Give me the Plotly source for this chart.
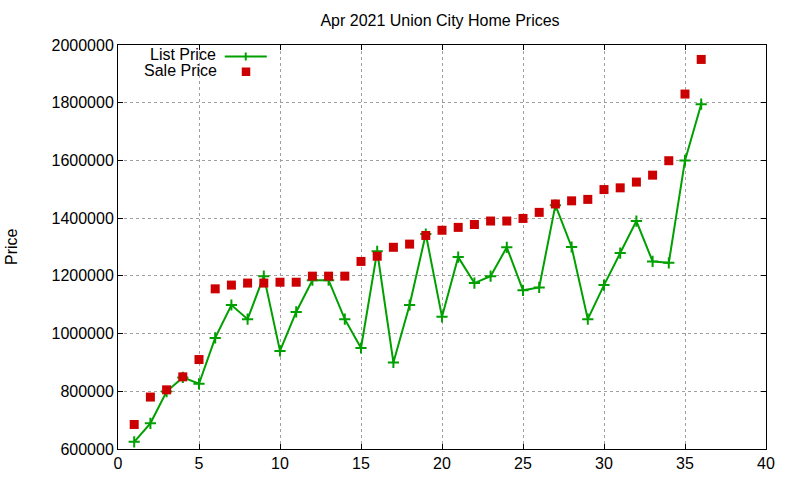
import plotly.graph_objects as go

homes = list(range(1, 37))
list_price = [625000, 689000, 799000, 848000, 826000, 985000, 1099000, 1050000, 1199000,
              940000, 1075000, 1185000, 1185000, 1050000, 950000, 1285000, 900000, 1099000,
              1345000, 1058000, 1265000, 1175000, 1199000, 1299000, 1150000, 1160000,
              1445000, 1300000, 1050000, 1168000, 1279000, 1390000, 1250000, 1245000,
              1600000, 1795000]
sale_price = [685000, 780000, 805000, 850000, 910000, 1155000, 1168000, 1175000, 1175000,
              1178000, 1178000, 1199000, 1199000, 1199000, 1250000, 1268000, 1299000,
              1310000, 1340000, 1358000, 1368000, 1378000, 1390000, 1390000, 1399000,
              1420000, 1449000, 1460000, 1465000, 1499000, 1505000, 1525000, 1549000,
              1599000, 1830000, 1950000]
x_ticks = [0, 5, 10, 15, 20, 25, 30, 35, 40]
y_ticks = [600000, 800000, 1000000, 1200000, 1400000, 1600000, 1800000, 2000000]

GREEN = "#00a000"
RED = "#cc0000"
FONT = "Liberation Sans, Arial, sans-serif"

W, H = 800, 480
# desired plot area in window pixels
PL, PR, PT, PB = 118.3, 766, 45, 449.3
L, T = PL, PT
R, B = W - PR, H - PB
pw, ph = PR - PL, PB - PT

def px(xp):
    return (xp - PL) / pw

def py(yp):
    return 1 - (yp - PT) / ph

fig = go.Figure()
fig.add_trace(go.Scatter(
    x=homes, y=list_price, mode="lines+markers", name="List Price",
    line=dict(color=GREEN, width=2),
    marker=dict(symbol="cross-thin", size=8, line=dict(color=GREEN, width=2)),
))
fig.add_trace(go.Scatter(
    x=homes, y=sale_price, mode="markers", name="Sale Price",
    marker=dict(symbol="square", size=9, color=RED),
))

axis_common = dict(
    showline=True, linecolor="black", linewidth=1, mirror="allticks",
    ticks="inside", ticklen=5, tickcolor="black", automargin=False,
    showgrid=True, gridcolor="#a0a0a0", griddash="dot", gridwidth=1,
    zeroline=False, tickfont=dict(family=FONT, size=16, color="black"),
)
fig.update_xaxes(range=[0, 40], tickvals=x_ticks, ticktext=[str(v) for v in x_ticks], **axis_common)
fig.update_yaxes(range=[600000, 2000000], tickvals=y_ticks, ticktext=[str(v) for v in y_ticks],
                 **axis_common)

legend_text = [("List Price", 218, 55), ("Sale Price", 219, 71)]

annotations = [
    dict(text=t, x=px(xx), y=py(yy), xref="paper", yref="paper",
         xanchor="right", yanchor="middle", showarrow=False,
         font=dict(family=FONT, size=16, color="black"))
    for t, xx, yy in legend_text
]
annotations.append(dict(text="Price", x=px(12), y=py(246.5), xref="paper", yref="paper",
                        xanchor="center", yanchor="middle", textangle=-90, showarrow=False,
                        font=dict(family=FONT, size=16, color="black")))

fig.update_layout(
    width=W, height=H,
    margin=dict(l=L, r=R, t=T, b=B, pad=0),
    paper_bgcolor="white", plot_bgcolor="white",
    showlegend=False,
    font=dict(family=FONT, size=16, color="black"),
    title=dict(text="Apr 2021 Union City Home Prices", x=440 / W, xanchor="center",
               y=1 - 20 / H, yanchor="middle", font=dict(family=FONT, size=16, color="black")),
    annotations=annotations,
    shapes=[
        dict(type="line", xref="paper", yref="paper", x0=px(225), x1=px(267), y0=py(56.5), y1=py(56.5),
             line=dict(color=GREEN, width=2)),
        dict(type="line", xref="paper", yref="paper", x0=px(246), x1=px(246), y0=py(52.5), y1=py(60.5),
             line=dict(color=GREEN, width=2)),
        dict(type="rect", xref="paper", yref="paper", x0=px(242), x1=px(250.5), y0=py(67.5), y1=py(76),
             fillcolor=RED, line=dict(width=0)),
    ],
)

fig.write_html("out.html", config={"displayModeBar": False},
               post_script="document.body.style.margin='0px';document.body.style.padding='0px';")
